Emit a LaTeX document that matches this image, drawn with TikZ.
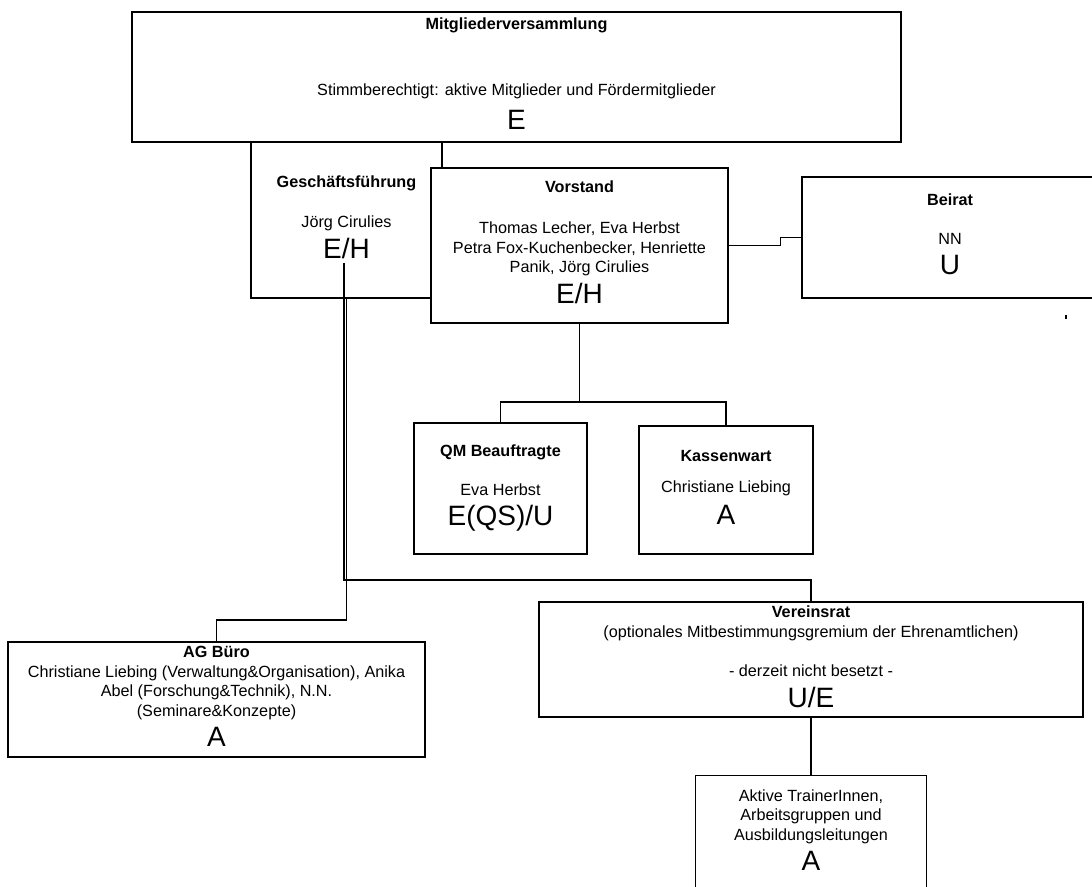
\documentclass[tikz,border=0pt]{standalone}
\usepackage{fontspec}
\setmainfont{Liberation Sans}
\usepackage{tikz}
\newcommand{\grade}[1]{{\fontsize{14}{16}\selectfont #1}}

\begin{document}
\begin{tikzpicture}[x=0.5pt, y=-0.5pt,
  font={\fontsize{8.1}{9.75}\selectfont\lineskiplimit=-20pt},
  unit/.style={rectangle, draw, fill=white, line width=0.6pt, align=center,
               inner sep=0pt, text depth=3pt},
  link/.style={line width=0.6pt}]
  \useasboundingbox (0,0) rectangle (1092,887);
  \clip (0,0) rectangle (1092,887);
  % boxes
  \node[unit, minimum width=384.5pt, minimum height=65pt] (mv) at (516.5,77)
    {\textbf{Mitgliederversammlung}\\[23.25pt]
     Stimmberechtigt: aktive Mitglieder und Fördermitglieder\\[7.25pt]
     \grade{E}};
  \node[unit, minimum width=95.5pt, minimum height=78pt] (gf) at (346.5,220)
    {\textbf{Geschäftsführung}\\[10.25pt] Jörg Cirulies\\[5.75pt] \grade{E/H}};
  \node[unit, minimum width=148.5pt, minimum height=77.5pt] (vs) at (579.5,245.5)
    {\textbf{Vorstand}\\[10.75pt] Thomas Lecher, Eva Herbst\\
     Petra Fox-Kuchenbecker, Henriette\\ Panik, Jörg Cirulies\\[5.75pt]
     \grade{E/H}};
  \node[unit, minimum width=148pt, minimum height=60.5pt] (br) at (950,237.5)
    {\textbf{Beirat}\\[9.75pt] NN\\[5.25pt] \grade{U}};
  \node[unit, minimum width=86.5pt, minimum height=65.5pt] (qm) at (500.5,488.5)
    {\textbf{QM Beauftragte}\\[9.75pt] Eva Herbst\\[5.25pt] \grade{E(QS)/U}};
  \node[unit, minimum width=87pt, minimum height=64pt] (kw) at (726,490)
    {\textbf{Kassenwart}\\[5.75pt] Christiane Liebing\\[6.25pt] \grade{A}};
  \node[unit, minimum width=208.5pt, minimum height=57.5pt] (ag) at (216.5,699.5)
    {\textbf{AG Büro}\\ Christiane Liebing (Verwaltung\&Organisation), Anika\\
     Abel (Forschung\&Technik), N.N.\\ (Seminare\&Konzepte)\\[5.25pt] \grade{A}};
  \node[unit, minimum width=272pt, minimum height=57.5pt] (vr) at (811,659.5)
    {\textbf{Vereinsrat}\\ (optionales Mitbestimmungsgremium der Ehrenamtlichen)\\[9.75pt]
     - derzeit nicht besetzt -\\[5.75pt] \grade{U/E}};
  \node[unit, anchor=north, minimum width=115.5pt, inner ysep=7pt, text depth=30pt]
    (at) at (811,775)
    {Aktive TrainerInnen,\\ Arbeitsgruppen und\\ Ausbildungsleitungen\\[5.25pt] \grade{A}};
  % connectors
  \coordinate (gfout) at (344,263);
  \coordinate (vrbend) at (344,580);
  \coordinate (agbend) at (346.5,620);
  \coordinate (split) at (579.5,402);
  \draw[link] (mv.south -| gf.east) -- (vs.north -| gf.east);
  \draw[link] (vs.east) -- ++(52,0) |- (br.west);
  \draw[link] (vs.south) -- (split);
  \draw[link] (qm.north) |- (split) -| (kw.north);
  \draw[link] (gfout) -- (vrbend) -| (vr.north);
  \draw[link] (gf.south) -- (agbend) -| (ag.north);
  \draw[link] (vr.south) -- (at.north);
  \draw[link] (1066,315) -- (1066,319);
\end{tikzpicture}
\end{document}
